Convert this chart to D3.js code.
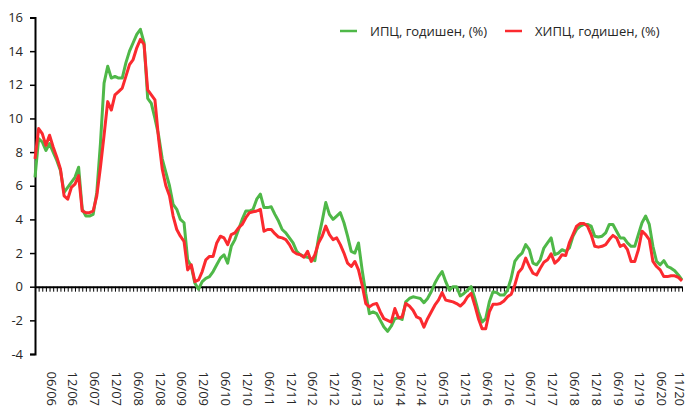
<!DOCTYPE html>
<html>
<head>
<meta charset="utf-8">
<title>ИПЦ и ХИПЦ</title>
<script src="https://d3js.org/d3.v7.min.js"></script>
<style>
    body { margin: 0; background: #fff; }
    .tick-label { font-family: "Open Sans", sans-serif; font-size: 13px; fill: #262626; }
    .legend-label { font-family: "Open Sans", sans-serif; font-size: 13px; fill: #262626; }
</style>
</head>
<body>
<div id="chart"></div>
<script>
    // monthly values, 01/2006 .. 11/2020
    let cpi = [
        6.5, 8.8, 8.6, 8.1, 8.5, 8.0, 7.5, 6.9, 5.6, 5.9, 6.2, 6.5,          // 2006
        7.1, 4.6, 4.2, 4.2, 4.3, 5.6, 8.5, 12.1, 13.1, 12.4, 12.5, 12.4,     // 2007
        12.4, 13.3, 14.0, 14.5, 15.0, 15.3, 14.5, 11.2, 10.9, 10.0, 9.0, 7.6, // 2008
        6.8, 6.0, 4.9, 4.6, 4.0, 3.8, 1.6, 1.2, 0.2, -0.15, 0.3, 0.5,        // 2009
        0.6, 0.9, 1.3, 1.7, 1.9, 1.4, 2.4, 2.8, 3.4, 4.0, 4.5, 4.5,          // 2010
        4.6, 5.2, 5.5, 4.7, 4.7, 4.75, 4.3, 3.9, 3.4, 3.2, 2.9, 2.6,         // 2011
        2.1, 1.9, 1.8, 1.75, 1.65, 1.55, 2.9, 3.9, 5.0, 4.3, 4.0, 4.2,       // 2012
        4.4, 3.8, 3.0, 2.1, 2.0, 2.6, 1.0, -0.4, -1.6, -1.5, -1.6, -2.0,     // 2013
        -2.4, -2.65, -2.35, -1.9, -1.85, -1.95, -0.9, -0.7, -0.6, -0.65, -0.7, -0.95, // 2014
        -0.7, -0.3, 0.2, 0.6, 0.9, 0.3, -0.2, 0.0, 0.0, -0.55, -0.4, -0.2,   // 2015
        0.0, -0.7, -1.5, -2.1, -1.9, -0.9, -0.3, -0.35, -0.5, -0.5, -0.2, 0.5, // 2016
        1.5, 1.8, 2.0, 2.5, 2.2, 1.4, 1.3, 1.6, 2.3, 2.6, 2.9, 1.9,          // 2017
        2.0, 2.2, 2.1, 2.3, 3.0, 3.4, 3.6, 3.7, 3.7, 3.6, 3.0, 2.95,         // 2018
        3.0, 3.2, 3.7, 3.7, 3.3, 2.9, 2.9, 2.6, 2.4, 2.4, 3.1, 3.8,          // 2019
        4.2, 3.7, 2.4, 1.5, 1.3, 1.55, 1.2, 1.1, 0.95, 0.7, 0.4              // 2020
    ];
    let hicp = [
        7.6, 9.4, 9.1, 8.4, 9.0, 8.3, 7.7, 7.0, 5.4, 5.2, 5.9, 6.1,
        6.6, 4.5, 4.4, 4.4, 4.5, 5.4, 7.1, 9.0, 11.0, 10.5, 11.4, 11.6,
        11.8, 12.5, 13.2, 13.5, 14.2, 14.7, 14.4, 11.7, 11.4, 11.1, 8.8, 7.0,
        6.0, 5.4, 4.2, 3.4, 3.0, 2.7, 1.0, 1.3, 0.3, 0.4, 0.9, 1.6,
        1.8, 1.8, 2.6, 3.0, 2.9, 2.5, 3.1, 3.2, 3.5, 3.7, 4.1, 4.4,
        4.45, 4.5, 4.6, 3.3, 3.4, 3.4, 3.15, 2.95, 2.9, 2.8, 2.5, 2.1,
        1.95, 1.9, 1.75, 2.1, 1.5, 1.9, 2.6, 3.0, 3.6, 3.1, 2.8, 2.9,
        2.5, 2.0, 1.4, 1.2, 1.5, 1.0, 0.1, -1.0, -1.2, -1.05, -1.0, -1.5,
        -1.9, -2.0, -2.1, -1.3, -1.85, -1.8, -1.0, -1.15, -1.4, -1.8, -1.9, -2.4,
        -1.9, -1.5, -1.1, -0.8, -0.35, -0.8, -0.85, -0.9, -1.0, -1.15, -0.95, -0.6,
        -0.4, -1.1, -1.9, -2.5, -2.5, -1.5, -1.05, -1.05, -1.0, -0.85, -0.6, -0.45,
        0.1, 0.85, 1.1, 1.7, 1.2, 0.8, 0.7, 1.1, 1.45, 1.6, 1.95, 1.4,
        1.6, 1.9, 1.85, 2.6, 3.1, 3.6, 3.75, 3.75, 3.6, 3.1, 2.4, 2.35,
        2.4, 2.5, 2.8, 3.05, 2.9, 2.4, 2.5, 2.2, 1.5, 1.5, 2.2, 3.3,
        3.1, 2.8, 1.5, 1.2, 1.0, 0.6, 0.6, 0.65, 0.65, 0.55, 0.35
    ];
    let months = d3.timeMonth.range(new Date(2006, 0, 1), new Date(2020, 11, 1));
    let xLabels = ["06/06", "12/06", "06/07", "12/07", "06/08", "12/08", "06/09", "12/09",
        "06/10", "12/10", "06/11", "12/11", "06/12", "12/12", "06/13", "12/13", "06/14", "12/14",
        "06/15", "12/15", "06/16", "12/16", "06/17", "12/17", "06/18", "12/18", "06/19", "12/19",
        "06/20", "11/20"];
    let yTicks = [-4, -2, 0, 2, 4, 6, 8, 10, 12, 14, 16];
    let seriesNames = ["ИПЦ, годишен, (%)", "ХИПЦ, годишен, (%)"];
    let colors = ["#4fb848", "#fb2a2f"];

    let width = 688, height = 409;
    let svg = d3.select("#chart").append("svg")
        .attr("width", width).attr("height", height);

    let x = d3.scaleLinear().domain([0, months.length - 1]).range([35, 682]);
    let y = d3.scaleLinear().domain([-4, 16]).range([354, 17.5]);

    // y axis
    let yAxis = svg.append("g")
        .attr("transform", "translate(35,0)")
        .call(d3.axisLeft(y).tickValues(yTicks).tickSize(5).tickPadding(7)
            .tickFormat(d => String(d)));
    yAxis.select(".domain").attr("stroke-width", 2);
    yAxis.selectAll(".tick line").attr("stroke-width", 1.5);
    yAxis.selectAll(".tick text").attr("class", "tick-label").attr("font-size", null).attr("font-family", null);

    // zero line with monthly ticks
    let xAxis = svg.append("g")
        .attr("transform", "translate(0," + y(0) + ")")
        .call(d3.axisBottom(x).tickValues(d3.range(months.length)).tickSize(5)
            .tickSizeOuter(0).tickFormat(""));
    xAxis.select(".domain").attr("stroke-width", 2);
    xAxis.selectAll(".tick line").attr("stroke-width", 1);

    // month labels, rotated
    let idx = function(lbl) {
        let p = lbl.split("/");
        return months.findIndex(m => m.getMonth() + 1 == +p[0] && m.getFullYear() % 100 == +p[1]);
    };
    svg.append("g").selectAll("text")
        .data(xLabels)
        .enter().append("text")
        .attr("class", "tick-label")
        .attr("text-anchor", "end")
        .attr("dy", "0.35em")
        .attr("transform", d => "translate(" + (x(idx(d)) - 2) + ",406) rotate(90)")
        .text(d => d);

    // lines
    let line = d3.line()
        .x((d, i) => x(i))
        .y(d => y(d));
    [cpi, hicp].forEach(function(s, k) {
        svg.append("path")
            .datum(s)
            .attr("fill", "none")
            .attr("stroke", colors[k])
            .attr("stroke-width", 3)
            .attr("stroke-linejoin", "round")
            .attr("d", line);
    });

    // legend
    let legendX = [340, 505];
    let legend = svg.append("g");
    seriesNames.forEach(function(name, k) {
        legend.append("line")
            .attr("x1", legendX[k]).attr("x2", legendX[k] + 17)
            .attr("y1", 31).attr("y2", 31)
            .attr("stroke", colors[k]).attr("stroke-width", 2.5);
        legend.append("text")
            .attr("class", "legend-label")
            .attr("x", legendX[k] + 30).attr("y", 35.5)
            .text(name);
    });
</script>
</body>
</html>
